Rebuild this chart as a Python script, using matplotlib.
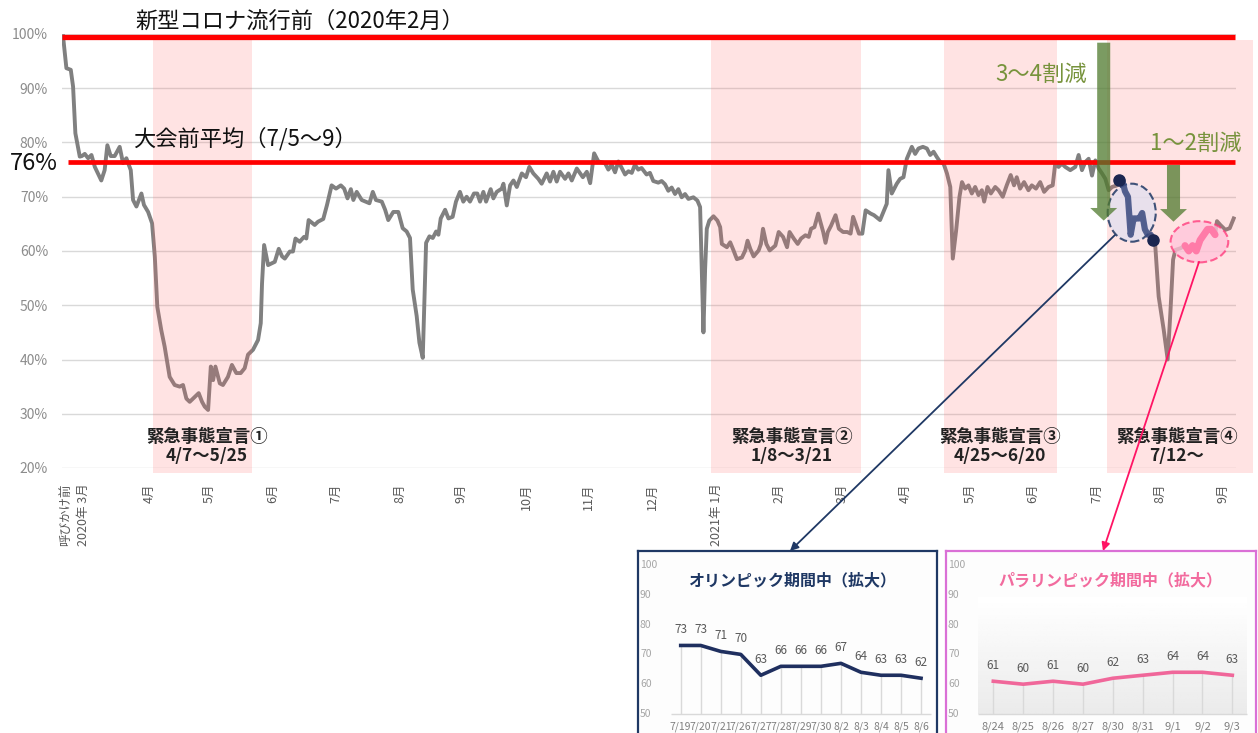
import numpy as np
import matplotlib.pyplot as plt
from matplotlib.patches import Ellipse, ConnectionPatch

plt.rcParams['font.family'] = ['Noto Sans CJK JP', 'DejaVu Sans']

# main series (x = position along the category axis, y = % of pre-covid level)
days = [0, 1.6, 3.7, 4.8, 5.9, 8.0, 9.0, 10.4, 12.0, 13.6, 15.2, 18.3, 19.9, 21.2, 22.8, 24.7, 27.1,
        28.7, 30.3, 32.4, 33.5, 35.1, 37.5, 38.7, 40.7, 42.6, 43.9, 45.1, 47.0, 48.6, 51.0, 53.4,
        55.8, 57.4, 59.0, 60.6, 63.0, 64.9, 66.5, 67.8, 69.4, 70.7, 71.8, 72.9, 75.0, 76.5, 78.9,
        80.8, 82.9, 85.0, 86.9, 88.5, 90.9, 93.3, 94.6, 95.2, 96.2, 98.1, 101.3, 103.2, 104.8,
        106.1, 108.5, 110.0, 111.2, 113.2, 115.3, 116.4, 117.5, 120.4, 122.0,
        124.5, 126.3, 128.5, 130.6, 132.9, 134.5, 136.1, 137.7, 138.9, 140.5, 142.9, 146.6, 148.2,
        149.7, 152.5, 154.1, 155.6, 158.0, 160.4, 162.5, 164.4, 166.0, 167.3, 169.2, 170.5, 172.1,
        173.7, 175.3, 176.9, 178.5, 179.6, 180.7, 182.8, 184.4, 186.4, 188.0, 189.9, 191.5, 193.1,
        194.7, 196.6, 198.2, 199.5, 201.1, 202.4, 204.6, 205.9, 207.5, 209.9, 210.7, 212.3, 213.9,
        215.5, 217.1, 219.5, 221.5, 223.1, 225.0, 227.4, 229.0, 231.4, 233.0, 234.6, 236.2, 237.8,
        240.2, 241.8, 243.4, 245.8, 247.4, 248.7, 250.6,
        252.2, 254.1, 256.1, 259.3, 260.9, 262.5, 264.1, 265.7, 267.3, 268.9, 270.5, 272.1, 273.6,
        275.2, 276.8, 279.2, 280.8, 282.4, 284.8, 286.4, 288.0, 289.6, 291.2, 292.8, 294.4, 296.0,
        297.6, 299.2, 301.6, 303.5, 304.8, 305.6, 306.4, 307.2, 308.0, 309.2, 311.2, 313.1, 314.4,
        315.2, 317.6, 319.2, 320.8, 322.4, 324.8, 326.4, 327.5, 328.8, 330.4, 332.8, 333.9, 334.9,
        336.5, 338.1, 340.8, 342.4, 344.5, 346.4, 347.6, 349.6, 351.5, 353.1, 355.2, 356.8, 357.9,
        359.5, 361.3, 362.4, 363.7, 364.8, 365.9, 367.5, 369.6, 371.2, 373.2, 375.2, 376.8, 378.0,
        379.2, 380.8, 382.4, 384.0, 386.4, 388.0,
        390.9, 392.5, 394.1, 394.9, 396.5, 398.9, 400.5, 402.1, 403.7, 406.1, 407.7, 409.3, 411.4,
        413.3, 414.9, 416.5, 418.1, 419.7, 421.3, 422.9, 424.5, 425.7, 427.3, 428.9, 430.1, 431.6,
        433.2, 434.8, 436.4, 438.0, 439.6, 440.7, 442.3, 443.9, 446.0, 447.6, 449.6, 451.5, 453.4,
        455.0, 456.3, 457.9, 459.8, 461.9, 463.5, 465.5, 467.5, 469.4, 471.5, 473.5, 474.7, 476.3,
        477.9, 479.5, 481.9, 484.3, 485.9, 487.5, 489.1, 490.7, 492.3, 493.9, 495.5, 497.1, 498.7,
        500.3, 501.9, 504.3,
        505.4, 506.8, 508.1, 509.5, 510.8, 512.2, 513.6, 514.9, 516.3, 517.6, 519.0, 520.4, 521.7,
        522.6, 524.2, 526.6, 528.5, 529.8, 531.1, 532.2, 534.6,
        536.8, 538.6, 540.4, 542.2, 544.0, 545.8, 547.6, 549.4, 551.2,
        552.1, 553.7, 556.1, 558.2, 560.1]
rate = [99.6, 93.7, 93.4, 90.3, 81.7, 77.4, 77.5, 77.9, 77.1, 77.7, 75.5, 73.0, 74.9, 79.5, 77.5, 77.5, 79.2,
        76.2, 77.1, 74.9, 69.4, 68.2, 70.6, 68.5, 67.2, 65.1, 59.0, 49.7, 45.4, 42.4, 36.8, 35.3,
        35.0, 35.3, 32.8, 32.2, 33.1, 33.8, 32.2, 31.3, 30.7, 38.7, 36.2, 38.7, 35.6, 35.3, 36.8,
        39.0, 37.5, 37.5, 38.4, 40.9, 41.8, 43.6, 46.7, 54.0, 61.1, 57.4, 58.0, 60.4, 59.0,
        58.6, 59.9, 59.9, 62.3, 61.7, 62.6, 62.3, 65.7, 64.8, 65.4,
        65.9, 68.5, 72.1, 71.5, 72.1, 71.5, 69.7, 71.4, 69.4, 70.9, 69.4, 68.8, 70.9,
        69.4, 69.1, 67.6, 65.7, 67.2, 67.2, 64.2, 63.6, 62.4, 52.9, 48.0, 43.1, 40.3,
        61.5, 62.7, 62.4, 63.6, 63.0, 66.0, 67.6, 66.0, 66.3, 69.1, 70.9, 69.1, 70.0,
        69.1, 70.6, 70.6, 69.1, 70.9, 69.1, 71.4, 69.7, 70.9, 71.5, 72.4, 68.4, 72.1,
        73.0, 71.8, 74.3, 73.6, 75.5, 74.3, 73.3, 72.4, 74.3, 72.8, 74.6, 72.8, 74.6,
        73.3, 74.3, 73.0, 75.2, 74.3, 73.6, 74.6,
        72.5, 78.0, 76.5, 76.2, 75.0, 75.9, 74.5, 76.5, 75.3, 74.1, 74.7, 74.4, 75.9,
        75.0, 75.3, 74.1, 74.4, 72.9, 72.6, 72.9, 72.3, 71.1, 71.7, 70.5, 71.4, 69.9,
        70.5, 69.6, 69.9, 69.3, 68.1, 56.7, 45.0, 56.7, 64.1, 65.6, 66.4, 65.6, 64.4,
        61.3, 60.7, 61.6, 60.1, 58.5, 58.8, 60.1, 61.9, 60.4, 59.0, 60.1, 61.3, 64.1,
        61.3, 60.1, 61.0, 63.5, 62.6, 60.7, 63.5, 62.3, 61.3, 62.3, 62.9, 62.6, 64.1,
        64.4, 66.9, 65.3, 63.5, 61.5, 63.5, 64.7, 66.6, 64.1, 63.5, 63.5, 63.2, 66.3,
        65.0, 63.2, 63.2, 67.5, 66.9, 66.6,
        65.7, 67.2, 68.7, 74.9, 70.6, 72.4, 73.3, 73.6, 77.0, 79.2, 77.9, 78.9, 79.2,
        78.9, 77.7, 78.3, 77.3, 76.4, 76.1, 74.3, 71.8, 58.6, 63.8, 70.0, 72.7, 71.5,
        72.1, 70.6, 71.8, 70.3, 71.2, 69.1, 71.8, 70.6, 71.8, 71.2, 70.0, 72.1, 74.0,
        72.1, 73.6, 71.5, 72.7, 71.2, 72.1, 71.5, 72.7, 70.9, 71.8, 72.1, 76.1, 75.5,
        76.1, 75.5, 74.9, 75.5, 77.7, 74.9, 76.4, 77.0, 73.9, 76.7, 75.2, 74.3, 73.3,
        71.2, 71.8, 72.1,
        73, 73, 71, 70, 63, 66, 66, 66, 67, 64, 63, 63, 62,
        60.8, 51.6, 45.5, 40.0, 48.6, 58.4, 60.2, 60.5,
        61, 60, 61, 60, 62, 63, 64, 64, 63,
        65.5, 64.8, 63.9, 64.2, 66.0]

tick_pos = [1.1, 9.9, 41.1, 69.9, 100.3, 130.4, 160.9, 190.5, 221.8, 251.1, 281.9,
            312.6, 342.5, 372.7, 403.0, 433.9, 463.7, 494.4, 524.9, 555.1]
tick_labels = ['呼びかけ前', '2020年 3月', '4月', '5月', '6月', '7月', '8月', '9月', '10月', '11月', '12月',
               '2021年 1月', '2月', '3月', '4月', '5月', '6月', '7月', '8月', '9月']

# emergency declaration periods (start, end on the x axis) and their labels
emerg_start = [43.1, 310.0, 421.5, 499.7]
emerg_end = [90.4, 382.0, 475.4, 569.4]
emerg_name = ['緊急事態宣言①', '緊急事態宣言②', '緊急事態宣言③', '緊急事態宣言④']
emerg_period = ['4/7～5/25', '1/8～3/21', '4/25～6/20', '7/12～']
emerg_label_x = [68.9, 348.8, 448.2, 533.0]

pre_covid = 99.4
pre_games_avg = 76.35

oly_x = [505.4, 506.8, 508.1, 509.5, 510.8, 512.2, 513.6, 514.9, 516.3, 517.6, 519.0, 520.4, 521.7]
oly_dates = ['7/19', '7/20', '7/21', '7/26', '7/27', '7/28', '7/29', '7/30', '8/2', '8/3', '8/4', '8/5', '8/6']
oly_vals = [73, 73, 71, 70, 63, 66, 66, 66, 67, 64, 63, 63, 62]

para_x = [536.8, 538.6, 540.4, 542.2, 544.0, 545.8, 547.6, 549.4, 551.2]
para_dates = ['8/24', '8/25', '8/26', '8/27', '8/30', '8/31', '9/1', '9/2', '9/3']
para_vals = [61, 60, 61, 60, 62, 63, 64, 64, 63]

W, H = 1258, 733


def px(x, y):
    return x / W, 1 - y / H


fig = plt.figure(figsize=(W / 100, H / 100), dpi=100)
ax = fig.add_axes([62 / W, 1 - 468 / H, (1236 - 62) / W, (468 - 34) / H])
ax.set_xlim(-0.5, 561.2)
ax.set_ylim(20, 100)
for s in ax.spines.values():
    s.set_visible(False)
ax.grid(axis='y', color='#d9d9d9', lw=1, zorder=0)
ax.set_axisbelow(True)
ax.set_yticks(range(20, 101, 10))
ax.set_yticklabels([f'{v}%' for v in range(20, 101, 10)], fontsize=10, color='#8c8c8c')
ax.set_xticks(tick_pos)
ax.set_xticklabels(tick_labels, rotation=90, fontsize=9, color='#595959')
ax.tick_params(axis='y', length=0, pad=10)
ax.tick_params(axis='x', length=0, pad=11)

ax.plot(days, rate, color='#808080', lw=2.8, zorder=2, solid_joinstyle='round')

for a, b in zip(emerg_start, emerg_end):
    ax.axvspan(a, b, ymin=-0.011, ymax=0.986, color='#FF6666', alpha=0.18, lw=0, zorder=3, clip_on=False)
for name, per, x in zip(emerg_name, emerg_period, emerg_label_x):
    ax.text(x, 25.7, name, ha='center', va='center', fontsize=12.5, fontweight='bold', color='#222222', zorder=9)
    ax.text(x, 22.2, per, ha='center', va='center', fontsize=12.5, fontweight='bold', color='#222222', zorder=9)

ax.hlines(pre_covid, -0.5, 560.8, color='#FF0000', lw=3.8, zorder=4)
ax.hlines(pre_games_avg, 2.4, 560.8, color='#FF0000', lw=3.4, zorder=4)

ax.add_patch(Ellipse((511.3, 67.06), 23.0, 10.7, fc='#E4E0EE', ec='#1F3864', ls='--', lw=1.5, alpha=0.85, zorder=5))
ax.add_patch(Ellipse((543.7, 61.7), 27.6, 7.6, fc='#FFC4DA', ec='#FF3377', ls='--', lw=1.5, alpha=0.75, zorder=5))

ax.plot(oly_x, oly_vals, color='#3A4A80', lw=4.5, alpha=0.85, solid_capstyle='round', zorder=6)
ax.plot([oly_x[0], oly_x[-1]], [oly_vals[0], oly_vals[-1]], 'o', color='#1B2650', ms=8, zorder=6)
ax.plot(para_x, para_vals, color='#FF7BA8', lw=5, solid_capstyle='round', zorder=6)

green = '#4F7A2E'
arrow = 'simple,head_length=9.1,head_width=19.4,tail_width=9.4'
ax.annotate('', xy=(497.9, 65.6), xytext=(497.9, 98.4),
            arrowprops=dict(arrowstyle=arrow, mutation_scale=1, fc=green, ec='none', alpha=0.75,
                            shrinkA=0, shrinkB=0), zorder=7)
ax.annotate('', xy=(531.3, 65.4), xytext=(531.3, 75.85),
            arrowprops=dict(arrowstyle=arrow, mutation_scale=1, fc=green, ec='none', alpha=0.75,
                            shrinkA=0, shrinkB=0), zorder=7)

fig.text(*px(135, 21), '新型コロナ流行前（2020年2月）', fontsize=16, va='center', color='#111111')
fig.text(*px(133, 139), '大会前平均（7/5～9）', fontsize=16, va='center', color='#111111')
fig.text(*px(10, 164), '76%', fontsize=17, va='center', color='#111111')
fig.text(*px(995, 74), '3～4割減', fontsize=16, va='center', color='#77933C')
fig.text(*px(1150, 143), '1～2割減', fontsize=16, va='center', color='#77933C')


def inset(left, right, x0, step, dates, vals, edge, title, title_col, line_col, tcx, shade, dfs):
    ins = fig.add_axes([left / W, 1 - 738 / H, (right - left) / W, (738 - 551) / H])
    ins.set_xlim((left - x0) / step, (right - x0) / step)
    ins.set_ylim(50 - 24 / 2.98, 100 + 14 / 2.98)
    ins.set_xticks([])
    ins.set_yticks([])
    ins.set_facecolor('#fdfdfd')
    for s in ins.spines.values():
        s.set_edgecolor(edge)
        s.set_linewidth(1.6)
    idx = np.arange(len(vals))
    if shade:
        grad = np.linspace(1, 0.92, 50).reshape(-1, 1)
        ins.imshow(grad, cmap='gray', vmin=0, vmax=1, aspect='auto',
                   extent=(idx[0] - 0.5, idx[-1] + 0.5, 50, 89), zorder=0)
    ins.vlines(idx, 50, vals, color='#d9d9d9', lw=1, zorder=1)
    ins.hlines(50, idx[0] - 0.5, idx[-1] + 0.5, color='#d9d9d9', lw=1, zorder=1)
    ins.plot(idx, vals, color=line_col, lw=2.6, zorder=2)
    for i, v in zip(idx, vals):
        ins.annotate(str(v), (i, v), xytext=(0, 11.5), textcoords='offset points',
                     ha='center', va='center', fontsize=8.5, color='#595959')
    for i, d in zip(idx, dates):
        ins.text(i, 50 - 13 / 2.98, d, ha='center', va='center', fontsize=dfs, color='#7f7f7f')
    for v in range(50, 101, 10):
        ins.text((left + 2 - x0) / step, v, str(v), ha='left', va='center', fontsize=7.5, color='#a6a6a6')
    ins.text((tcx - x0) / step, 100 - 15 / 2.98, title, ha='center', va='center',
             fontsize=11.5, fontweight='bold', color=title_col)
    return ins


ins1 = inset(638, 937, 680.7, 20.03, oly_dates, oly_vals, '#1F3864',
             'オリンピック期間中（拡大）', '#1F3864', '#1F2F5F', 792, False, 7.5)
ins2 = inset(946, 1256, 993.3, 29.88, para_dates, para_vals, '#DA70D6',
             'パラリンピック期間中（拡大）', '#F26B9E', '#F0679A', 1110, True, 8)

con1 = ConnectionPatch(xyA=(503.3, 62.95), coordsA=ax.transData,
                       xyB=((790 - 680.7) / 20.03, 100 + 14 / 2.98), coordsB=ins1.transData,
                       arrowstyle='-|>', mutation_scale=12, color='#1F3864', lw=1.3)
con2 = ConnectionPatch(xyA=(543.5, 58.0), coordsA=ax.transData,
                       xyB=((1103 - 993.3) / 29.88, 100 + 14 / 2.98), coordsB=ins2.transData,
                       arrowstyle='-|>', mutation_scale=12, color='#FF1464', lw=1.3)
fig.add_artist(con1)
fig.add_artist(con2)

plt.savefig('out.png', dpi=100)
